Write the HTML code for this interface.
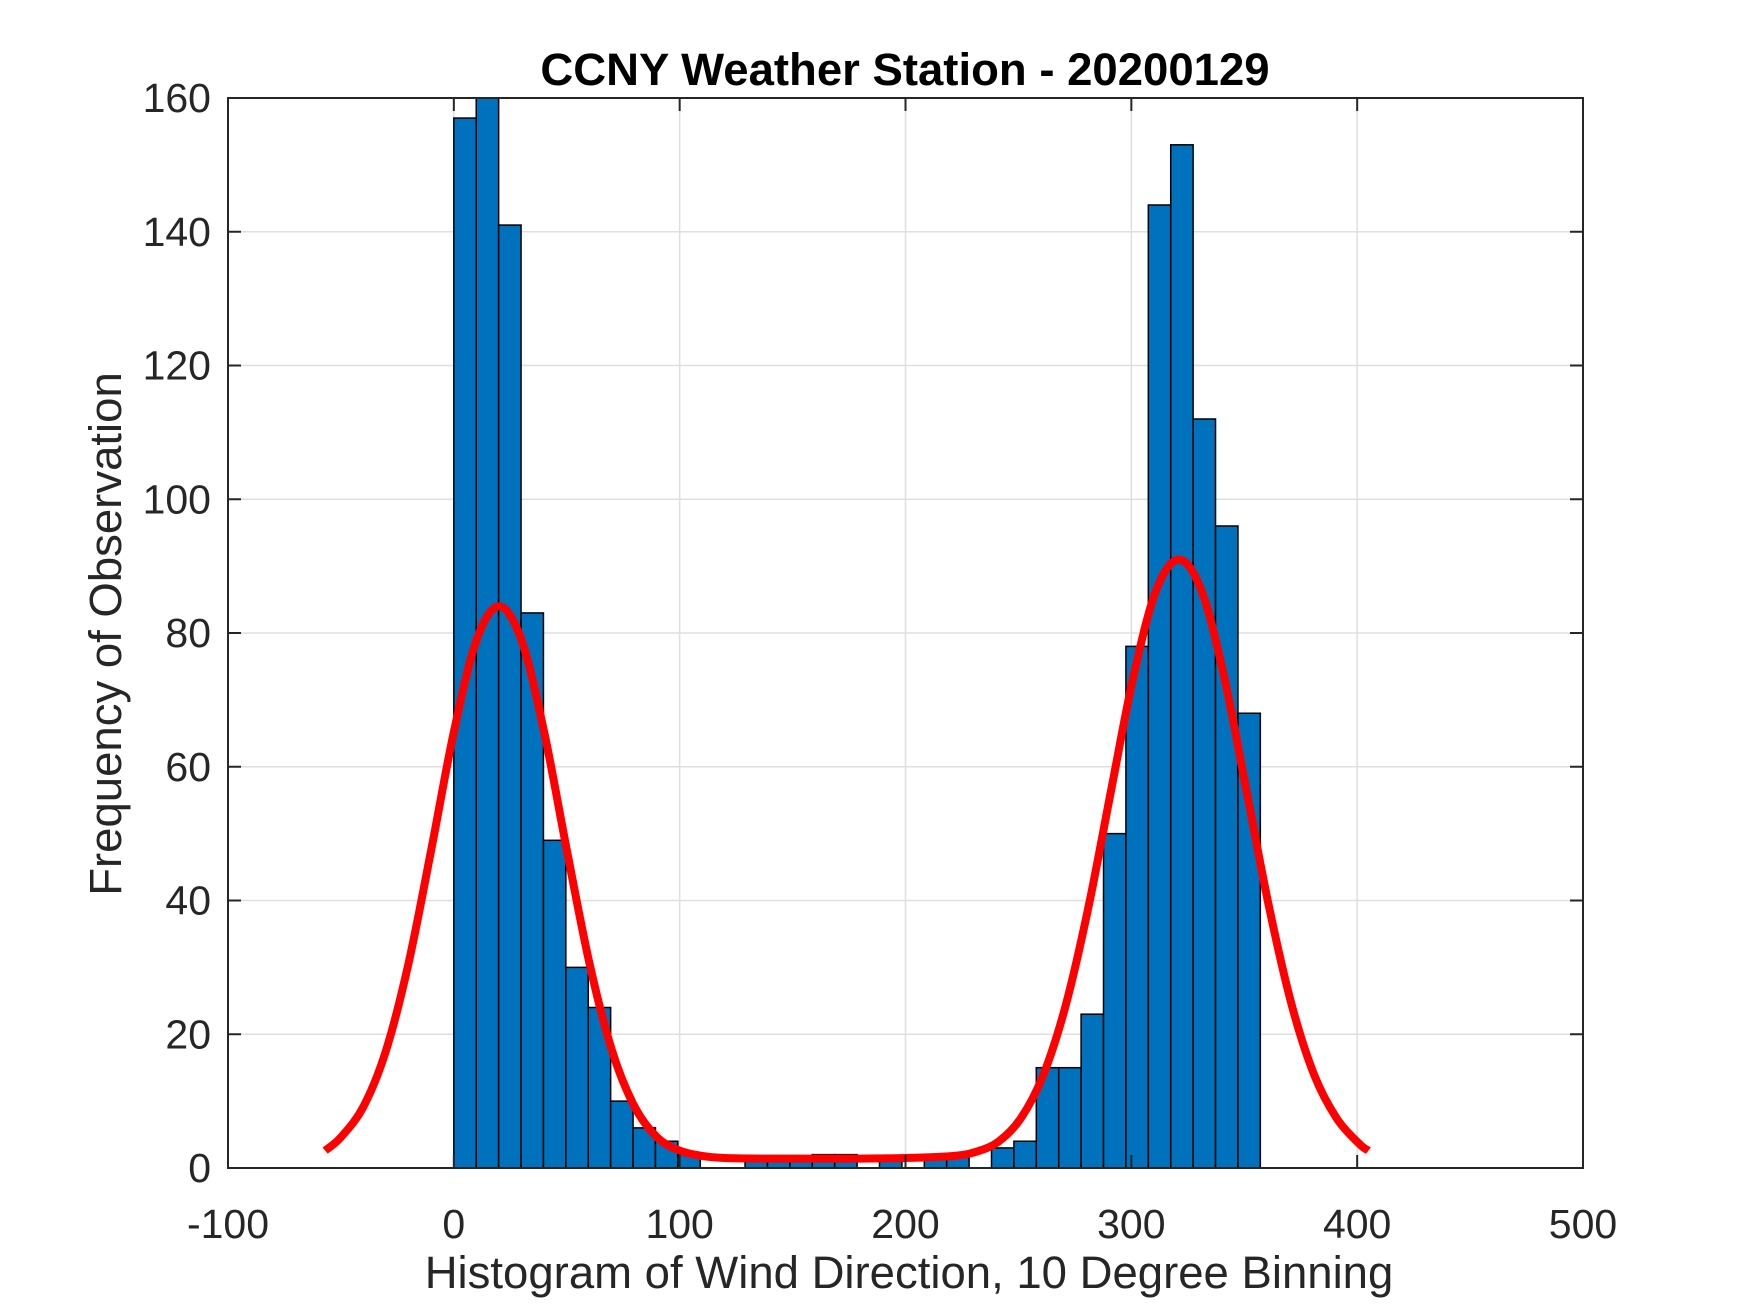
<!DOCTYPE html>
<html><head><meta charset="utf-8"><style>
body{margin:0;background:#fff;}
svg{display:block;font-family:"Liberation Sans",Arial,sans-serif;}
</style></head><body>
<svg id="chart" width="1750" height="1313" viewBox="0 0 1750 1313" xmlns="http://www.w3.org/2000/svg">
<rect width="1750" height="1313" fill="#fff"/>
<g id="grid"></g><g id="bars"></g><g id="curve"></g><g id="axes"></g>
</svg>
<script>
const binStart = 0;
const binWidth = 9.92;
const binCounts = [157,160,141,83,49,30,24,10,6,4,2,0,0,1,1,1,2,2,0,1,0,2,2,0,3,4,15,15,23,50,78,144,153,112,96,68];
const fitX = [-57,-50,-40,-30,-20,-10,0,10,20,30,40,50,60,70,80,90,100,110,120,140,160,180,200,221,231,241,251,261,271,281,291,301,311,321,331,341,351,361,371,381,391,401,405];
const fitY = [2.6,4.6,9.2,17.6,30.7,47.6,65.2,78.9,84,78.9,65.2,47.6,30.7,17.6,9.2,4.6,2.6,1.8,1.5,1.4,1.4,1.4,1.5,1.8,2.4,3.9,7.4,13.9,24.4,39,56.4,73.6,86.4,91,86.4,73.6,56.4,39,24.4,13.9,7.4,3.6,2.6];
const xTicks = [-100,0,100,200,300,400,500];
const yTicks = [0,20,40,60,80,100,120,140,160];
const titleText = "CCNY Weather Station - 20200129";

const L=228,R=1583,T=98,B=1168,xMin=-100,xMax=500,yMin=0,yMax=160;
const sx=v=>L+(v-xMin)/(xMax-xMin)*(R-L);
const sy=v=>B-(v-yMin)/(yMax-yMin)*(B-T);
const NS="http://www.w3.org/2000/svg";
function mk(tag,attrs,parent,txt){const e=document.createElementNS(NS,tag);for(const k in attrs)e.setAttribute(k,attrs[k]);if(txt!==undefined)e.textContent=txt;parent.appendChild(e);return e;}
const grid=document.getElementById('grid'),bars=document.getElementById('bars'),curve=document.getElementById('curve'),axes=document.getElementById('axes'),svg=document.getElementById('chart');

xTicks.forEach(t=>{const g=mk('line',{x1:sx(t),x2:sx(t),y1:T,y2:B,stroke:'#dfdfdf','stroke-width':1.5},grid);

});
yTicks.forEach(t=>{const g=mk('line',{x1:L,x2:R,y1:sy(t),y2:sy(t),stroke:'#dfdfdf','stroke-width':1.5},grid);

});

binCounts.forEach((c,i)=>{if(c<=0)return;const x0=sx(binStart+i*binWidth),x1=sx(binStart+(i+1)*binWidth);
const b=mk('rect',{x:x0,y:sy(c),width:x1-x0,height:sy(0)-sy(c),fill:'#0072BD',stroke:'#000','stroke-width':1.5},bars);

});

const P=fitX.map((x,i)=>[sx(x),sy(fitY[i])]);
let d=`M${P[0][0]},${P[0][1]}`;
for(let i=0;i<P.length-1;i++){const p0=P[Math.max(i-1,0)],p1=P[i],p2=P[i+1],p3=P[Math.min(i+2,P.length-1)];
d+=` C${p1[0]+(p2[0]-p0[0])/6},${p1[1]+(p2[1]-p0[1])/6} ${p2[0]-(p3[0]-p1[0])/6},${p2[1]-(p3[1]-p1[1])/6} ${p2[0]},${p2[1]}`;}
const fc=mk('path',{d:d,fill:'none',stroke:'#ff0000','stroke-width':8,'stroke-linejoin':'round'},curve);



const box=mk('rect',{x:L,y:T,width:R-L,height:B-T,fill:'none',stroke:'#262626','stroke-width':2},axes);


xTicks.forEach(t=>{const x=sx(t);
mk('line',{x1:x,x2:x,y1:B,y2:B-13,stroke:'#262626','stroke-width':2},axes);
mk('line',{x1:x,x2:x,y1:T,y2:T+13,stroke:'#262626','stroke-width':2},axes);
const lb=mk('text',{x:x,y:1238,'text-anchor':'middle','font-size':41,fill:'#262626'},axes,String(t));

});
yTicks.forEach(t=>{const y=sy(t);
mk('line',{x1:L,x2:L+13,y1:y,y2:y,stroke:'#262626','stroke-width':2},axes);
mk('line',{x1:R,x2:R-13,y1:y,y2:y,stroke:'#262626','stroke-width':2},axes);
const lb=mk('text',{x:211,y:y+14,'text-anchor':'end','font-size':41,fill:'#262626'},axes,String(t));

});

const ti=mk('text',{x:905,y:85,'text-anchor':'middle','font-size':45.5,'font-weight':'bold',fill:'#000'},svg,titleText);


const xl=mk('text',{x:909,y:1288,'text-anchor':'middle','font-size':45.5,fill:'#262626'},svg,'Histogram of Wind Direction, 10 Degree Binning');


const yl=mk('text',{x:0,y:0,'text-anchor':'middle','font-size':45.5,fill:'#262626',transform:'translate(121,634) rotate(-90)'},svg,'Frequency of Observation');


</script>
</body></html>
